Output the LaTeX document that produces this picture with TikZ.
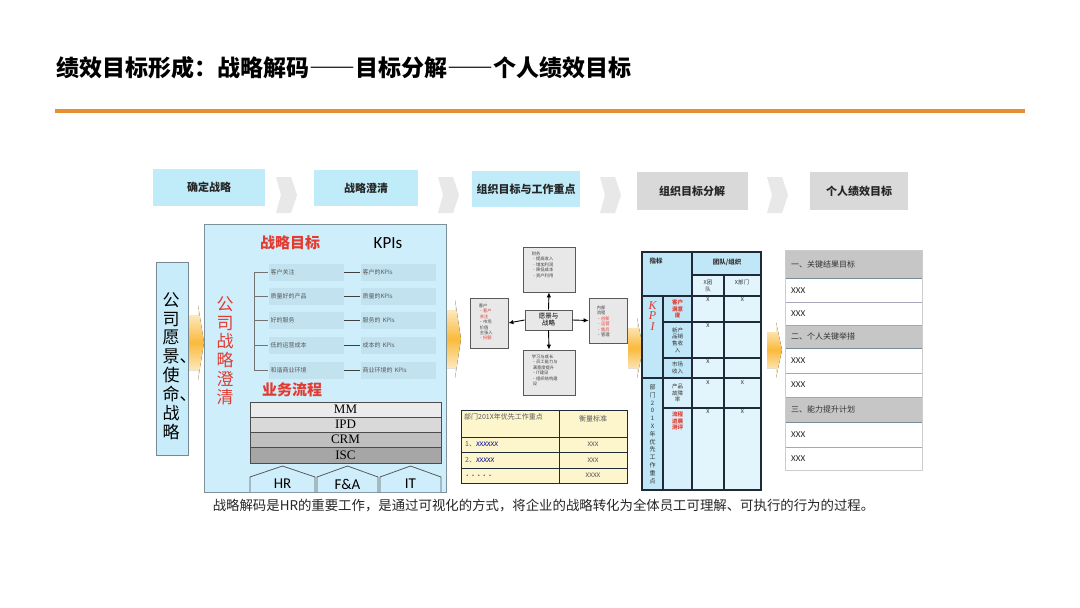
\documentclass[tikz,border=0pt]{standalone}
\usepackage{fontspec}
\setmainfont{Noto Sans CJK SC}
\newfontfamily\cjkfull{Noto Sans CJK SC}[CharacterWidth=Full]
\newfontfamily\serifen{Liberation Serif}
\newfontfamily\sansen{Carlito}
\usetikzlibrary{arrows.meta,shadows}
\definecolor{ttlorange}{RGB}{232,142,52}
\definecolor{boxblue}{RGB}{192,236,250}
\definecolor{boxgrey}{RGB}{217,217,217}
\definecolor{chev}{RGB}{232,232,232}
\definecolor{panel}{RGB}{207,238,251}
\definecolor{itemblue}{RGB}{194,226,240}
\definecolor{redtxt}{RGB}{226,60,50}
\definecolor{leftbox}{RGB}{200,236,250}
\definecolor{bsgrey}{RGB}{232,232,232}
\definecolor{yell}{RGB}{253,246,205}
\definecolor{kpiblue}{RGB}{192,231,248}
\definecolor{kpilight}{RGB}{226,244,252}
\definecolor{hdrgrey}{RGB}{198,198,198}
\definecolor{darkline}{RGB}{30,42,56}
\definecolor{orangeA}{RGB}{250,186,60}
\tikzset{
  topbox/.style={fill=boxblue, font=\fontsize{11}{13}\selectfont\bfseries, text=black!85, inner sep=0pt},
  greybox/.style={topbox, fill=boxgrey},
  chevron/.style={fill=chev},
  orarrow/.style={top color=orangeA!10, bottom color=orangeA!10, middle color=orangeA},
  itembox/.style={fill=itemblue, font=\fontsize{6}{7}\selectfont, text=black!65, align=left, text width=71pt, inner xsep=2pt, minimum height=17pt},
  treel/.style={draw=black!55, line width=0.6pt},
  connk/.style={draw=black!75, line width=0.7pt},
  barbox/.style={draw=black!70, line width=0.8pt, minimum width=191pt, inner sep=0pt, font=\serifen\fontsize{13}{13}\selectfont},
  bsbox/.style={draw=black!65, fill=bsgrey, line width=0.8pt, inner sep=0pt},
  bstext/.style={font=\fontsize{4.3}{5.4}\selectfont, align=left, inner sep=0pt, text=black!75},
  bsarrow/.style={draw=black, line width=0.9pt, -{Latex[length=5pt,width=4.5pt]}},
  tcell/.style={font=\fontsize{7}{8}\selectfont, text=black!65, inner sep=0pt},
  kcell/.style={font=\fontsize{5.5}{6.6}\selectfont, align=center, inner sep=0pt, text=black!80},
  kline/.style={draw=darkline, line width=1.1pt},
  listhdr/.style={font=\fontsize{8}{9}\selectfont, text=black!80, anchor=west, inner sep=0pt},
  listrow/.style={font=\sansen\fontsize{9}{10}\selectfont, text=black!85, anchor=west, inner sep=0pt}
}
\begin{document}
\begin{tikzpicture}[x=1pt,y=-1pt]
\useasboundingbox (0,0) rectangle (1080,608);
\fill[white] (0,0) rectangle (1080,608);
% title
\node[anchor=west, inner sep=0pt, font=\cjkfull\fontsize{23}{26}\selectfont\bfseries] (title) at (56,68) {绩效目标形成：战略解码——目标分解——个人绩效目标};
\draw[ttlorange, line width=4pt] (55,111) -- (1025,111);

% top process row
\node[topbox, minimum width=112pt, minimum height=37pt] (s1) at (209,187) {确定战略};
\node[topbox, minimum width=104pt, minimum height=36pt] (s2) at (366,188) {战略澄清};
\node[topbox, minimum width=108pt, minimum height=36pt] (s3) at (526,189) {组织目标与工作重点};
\node[greybox, minimum width=111pt, minimum height=38pt] (s4) at (692,191) {组织目标分解};
\node[greybox, minimum width=98pt, minimum height=38pt] (s5) at (859,191) {个人绩效目标};
\foreach \x in {276,438,600,767}{
  \fill[chevron] (\x,177) -- (\x+15,177) -- (\x+21,195) -- (\x+15,213) -- (\x,213) -- (\x+5,195) -- cycle;
}

% orange flow arrows
\foreach \x/\ya/\yb in {189/305/380, 446/300/378, 628/318/378, 767/322/378}{
  \fill[orarrow] (\x,\ya+10) -- (\x+9,\ya+10) -- (\x+9,\ya) -- (\x+15,{(\ya+\yb)/2}) -- (\x+9,\yb) -- (\x+9,\yb-10) -- (\x,\yb-10) -- cycle;
}

% left vision box
\node[draw=black!45!cyan!40!gray, fill=leftbox, line width=0.8pt, minimum width=32pt, minimum height=193pt, inner sep=0pt] (visionbox) at (172.5,358.5) {};
\node[font=\fontsize{17}{18.9}\selectfont, align=center, inner sep=0pt] (vision) at (171,366) {公\\司\\愿\\景\rlap{、}\\使\\命\rlap{、}\\战\\略};

% main panel
\node[draw=black!30!cyan!30!gray, fill=panel, line width=0.6pt, minimum width=242pt, minimum height=268pt, inner sep=0pt] (panel) at (325,358) {};
\node[font=\fontsize{15}{17}\selectfont\bfseries, text=redtxt, inner sep=0pt] (goal) at (290,243) {战略目标};
\node[font=\sansen\fontsize{17}{19}\selectfont, inner sep=0pt] (kpis) at (388,243) {KPIs};
\node[font=\fontsize{17}{18.6}\selectfont, text=redtxt, align=center, inner sep=0pt] (clarify) at (225,351) {公\\司\\战\\略\\澄\\清};
\draw[treel] (254,272) -- (254,370);
\foreach \y/\a/\b [count=\i] in {272/客户关注/客户的KPIs, 296/质量好的产品/质量的KPIs, 320/好的服务/服务的 KPIs, 345/低的运营成本/成本的 KPIs, 370/和谐商业环境/商业环境的 KPIs}{
  \node[itembox] (obj\i) at (306,\y) {\a};
  \node[itembox] (kpi\i) at (398,\y) {\b};
  \draw[connk] (obj\i.east) -- (kpi\i.west);
  \coordinate (tr\i) at (254,\y);
  \draw[treel] (tr\i) -- (obj\i.west);
}
\node[font=\fontsize{15}{17}\selectfont\bfseries, text=redtxt, inner sep=0pt] (proc) at (292,390) {业务流程};
\node[barbox, fill=black!8, minimum height=15pt] (mm) at (345.5,409.5) {MM};
\node[barbox, fill=black!15, minimum height=15pt] (ipd) at (345.5,424.5) {\raisebox{-3pt}{IPD}};
\node[barbox, fill=black!25, minimum height=15pt] (crm) at (345.5,439.5) {CRM};
\node[barbox, fill=black!35, minimum height=16pt] (isc) at (345.5,455) {ISC};
\foreach \xa/\xb/\t [count=\i] in {250/315/HR, 317/378/F\&A, 380/441/IT}{
  \draw[draw=black!65, line width=0.8pt, fill=panel] (\xa,492) -- (\xa,477) -- ({(\xa+\xb)/2},466) -- (\xb,477) -- (\xb,492);
  \node[font=\sansen\fontsize{15}{17}\selectfont, inner sep=0pt] (sup\i) at ({(\xa+\xb)/2},484) {\t};
}

% balanced scorecard
\node[bsbox, minimum width=52pt, minimum height=45pt] (fin) at (549,269.5) {};
\node[bsbox, minimum width=38pt, minimum height=50pt] (cust) at (489,323) {};
\node[bsbox, minimum width=38pt, minimum height=45pt] (intp) at (608,320.5) {};
\node[bsbox, minimum width=52pt, minimum height=45pt] (learn) at (549,372.5) {};
\node[bsbox, minimum width=47pt, minimum height=20pt, font=\fontsize{6.5}{7}\selectfont, align=center] (vs) at (548.5,320) {愿景与\\战略};
\draw[bsarrow] (vs.north) -- (fin.south);
\draw[bsarrow] (vs.south) -- (learn.north);
\draw[bsarrow] (vs.west) -- (cust.east);
\draw[bsarrow] (vs.east) -- (intp.west);
\node[bstext, anchor=north west] (fint) at ([xshift=9pt,yshift=-5pt]fin.north west) {财务\\{\color{redtxt}•}提高收入\\{\color{redtxt}•}增加利润\\{\color{redtxt}•}降低成本\\{\color{redtxt}•}资产利用};
\node[bstext, anchor=north west] (custt) at ([xshift=9pt,yshift=-6pt]cust.north west) {客户\\{\color{redtxt}•客户}\\{\color{redtxt}\ 关注}\\•市场\\\ 价值\\\ 主张入\\{\color{redtxt}•份额}};
\node[bstext, anchor=north west] (intpt) at ([xshift=8pt,yshift=-8pt]intp.north west) {内部\\流程\\{\color{redtxt}•创新}\\{\color{redtxt}•运营}\\{\color{redtxt}•售后}\\•管理};
\node[bstext, anchor=north west] (learnt) at ([xshift=9pt,yshift=-5pt]learn.north west) {学习与成长\\•员工能力与\\\ 满意度提升\\•IT建设\\•组织结构建\\\ 设};

% priority table
\fill[yell] (461,410) rectangle (627,483);
\draw[kline, line width=1pt] (461,410) rectangle (627,483);
\draw[kline, line width=1pt] (559,410) -- (559,483);
\foreach \y in {437,452,468}{ \draw[kline, line width=1pt] (461,\y) -- (627,\y); }
\node[tcell, anchor=north west, text width=92pt, align=left] (ph) at (464,413) {部门201X年优先工作重点};
\node[tcell] (pm) at (593,419) {衡量标准};
\node[tcell, anchor=west] (p1) at (465,444.5) {\textit{1}、{\color{blue!60!black}\sansen\itshape XXXXXX}};
\node[tcell] (m1) at (593,444.5) {\sansen XXX};
\node[tcell, anchor=west] (p2) at (465,460) {\textit{2}、{\color{blue!60!black}\sansen\itshape XXXXX}};
\node[tcell] (m2) at (593,460) {\sansen XXX};
\node[tcell, anchor=west] (p3) at (466,475.5) {\textbf{.\ \ .\ \ .\ \ .\ \ .}};
\node[tcell] (m3) at (593,475.5) {\sansen XXXX};

% KPI table
\fill[kpiblue] (642,252) rectangle (761,490);
\fill[kpilight] (692,275) rectangle (761,490);
\fill[kpilight!70!kpiblue] (663,378) rectangle (692,490);
\draw[kline] (642,252) rectangle (761,490);
\draw[kline] (663,296) -- (663,490);
\draw[kline] (692,252) -- (692,490);
\draw[kline] (724,275) -- (724,490);
\draw[kline] (692,275) -- (761,275);
\draw[kline] (642,296) -- (761,296);
\draw[kline] (663,322) -- (761,322);
\draw[kline] (663,358) -- (761,358);
\draw[kline] (642,378) -- (761,378);
\draw[kline] (663,408) -- (761,408);
\node[kcell, font=\fontsize{6.5}{7}\selectfont\bfseries] (kh1) at (656,261) {指标};
\node[kcell, font=\fontsize{6.5}{7}\selectfont\bfseries] (kh2) at (727,262) {团队/组织};
\node[kcell] (kh3) at (708,286) {X团\\队};
\node[kcell] (kh4) at (742,282) {X部门};
\node[kcell, font=\serifen\itshape\fontsize{12}{10.5}\selectfont, text=redtxt] (kpiv) at (652.5,316) {K\\P\\I};
\node[kcell, font=\fontsize{6}{7.8}\selectfont] (deptv) at (652.5,434) {部\\门\\2\\0\\1\\X\\年\\优\\先\\工\\作\\重\\点};
\node[kcell, text=redtxt, font=\fontsize{5.5}{6.6}\selectfont\bfseries] (r1) at (677.5,309) {客户\\满意\\度};
\node[kcell] (r2) at (677.5,340) {新产\\品销\\售收\\入};
\node[kcell] (r3) at (677.5,368) {市场\\收入};
\node[kcell] (r4) at (677.5,393) {产品\\故障\\率};
\node[kcell, text=redtxt, font=\fontsize{5.5}{6.6}\selectfont\bfseries] (r5) at (677.5,421) {流程\\进展\\测评};
\foreach \y/\b [count=\i] in {300/1, 326/0, 362/0, 383/1, 412/1}{
  \node[kcell, font=\sansen\fontsize{6}{7}\selectfont] (xa\i) at (708,\y) {X};
  \ifnum\b=1 \node[kcell, font=\sansen\fontsize{6}{7}\selectfont] (xb\i) at (742.5,\y) {X}; \fi
}

% personal goals list
\fill[white, drop shadow={opacity=0.25, shadow xshift=1pt, shadow yshift=-1pt}] (785,250) rectangle (922,470);
\foreach \ya/\yb in {250/278, 325/348, 397/422}{
  \fill[hdrgrey] (785,\ya) rectangle (922,\yb);
  \draw[draw=cyan!35!black!70, line width=1pt] (785,\yb) -- (922,\yb);
}
\foreach \y in {302,373,447}{ \draw[draw=blue!20!black!35, line width=0.8pt] (785,\y) -- (922,\y); }
\foreach \y in {325,397}{ \draw[draw=blue!20!black!35, line width=0.8pt] (785,\y) -- (922,\y); }
\draw[black!20, line width=0.6pt] (785,250) rectangle (922,470);
\node[listhdr] (h1) at (791,264) {一、关键结果目标};
\node[listrow] (l1) at (791,290.5) {XXX};
\node[listrow] (l2) at (791,313.5) {XXX};
\node[listhdr] (h2) at (791,336.5) {二、个人关键举措};
\node[listrow] (l3) at (791,360.5) {XXX};
\node[listrow] (l4) at (791,385) {XXX};
\node[listhdr] (h3) at (791,409.5) {三、能力提升计划};
\node[listrow] (l5) at (791,434.5) {XXX};
\node[listrow] (l6) at (791,458.5) {XXX};

% caption
\node[font=\fontsize{13.4}{15}\selectfont, text=black!85, inner sep=0pt] (caption) at (543.5,506) {战略解码是HR的重要工作，是通过可视化的方式，将企业的战略转化为全体员工可理解、可执行的行为的过程。};
\end{tikzpicture}
\end{document}
